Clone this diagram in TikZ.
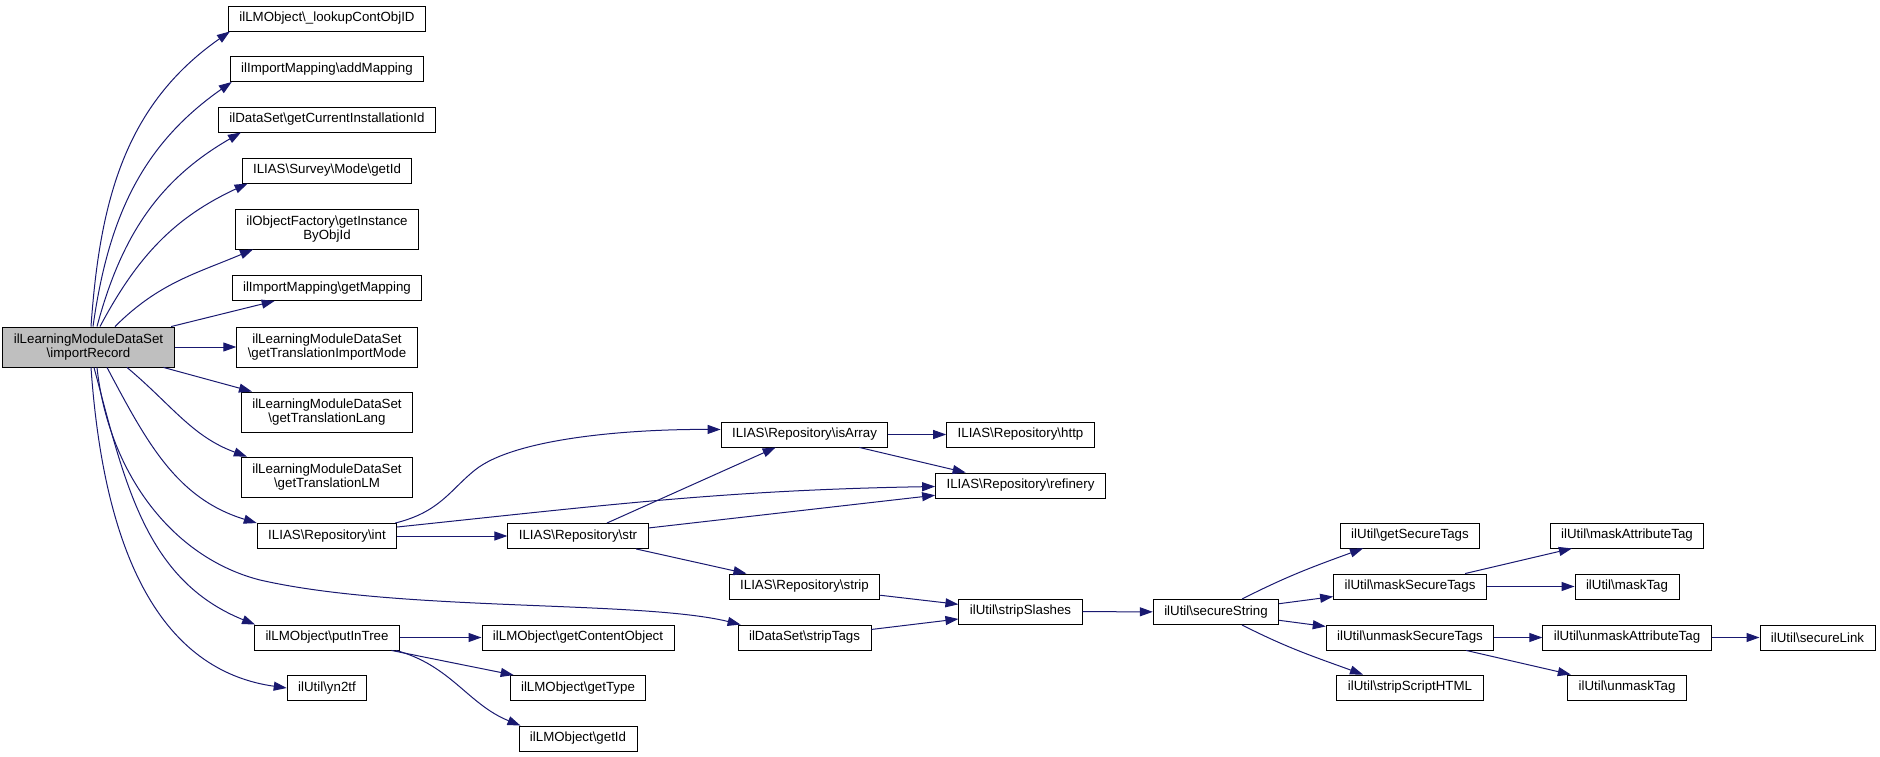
\documentclass[tikz,border=0pt]{standalone}
\usepackage{fontspec}
\setmainfont{Liberation Sans}
\usepackage{tikz}
\usetikzlibrary{arrows.meta}
\definecolor{edgeblue}{HTML}{191970}
\definecolor{curfill}{HTML}{BFBFBF}
\newcommand{\bksl}{\textbackslash}
\newcommand{\fnfont}{\fontsize{13.3}{14}\selectfont}
\tikzset{
  fn/.style={draw=black, line width=0.9pt, fill=white, minimum height=25pt, inner xsep=11pt, inner ysep=0pt, align=center, font=\fnfont},
  fntwo/.style={fn, minimum height=40pt},
  cur/.style={fntwo, fill=curfill},
  call/.style={draw=edgeblue, line width=1pt, -{Triangle[length=13pt,width=9pt]}},
}

\begin{document}
\begin{tikzpicture}[x=1pt,y=-1pt]
  \useasboundingbox (0,0) rectangle (1880,757);
  \def\ca{88.5} \def\cb{327} \def\cc{578} \def\cd{804.5} \def\ce{1020.5}
  \def\cf{1216} \def\cg{1410} \def\ch{1627} \def\ci{1817.5}
  % caller
  \node[cur] (main) at (\ca,347) {ilLearningModuleDataSet\\\bksl{}importRecord};
  % first level
  \node[fn] (lookup) at (\cb,18.5) {ilLMObject\bksl\_lookupContObjID};
  \node[fn] (addmap) at (\cb,69) {ilImportMapping\bksl{}addMapping};
  \node[fn] (instid) at (\cb,119.5) {ilDataSet\bksl{}getCurrentInstallationId};
  \node[fn] (modeid) at (\cb,170.5) {ILIAS\bksl{}Survey\bksl{}Mode\bksl{}getId};
  \node[fntwo] (objinst) at (\cb,229) {ilObjectFactory\bksl{}getInstance\\ByObjId};
  \node[fn] (getmap) at (\cb,288) {ilImportMapping\bksl{}getMapping};
  \node[fntwo] (trmode) at (\cb,347) {ilLearningModuleDataSet\\\bksl{}getTranslationImportMode};
  \node[fntwo] (trlang) at (\cb,412) {ilLearningModuleDataSet\\\bksl{}getTranslationLang};
  \node[fntwo] (trlm) at (\cb,477) {ilLearningModuleDataSet\\\bksl{}getTranslationLM};
  \node[fn] (repoint) at (\cb,536) {ILIAS\bksl{}Repository\bksl{}int};
  \node[fn] (putintree) at (\cb,637.5) {ilLMObject\bksl{}putInTree};
  \node[fn] (yntf) at (\cb,688) {ilUtil\bksl{}yn2tf};
  % second level
  \node[fn] (repostr) at (\cc,536) {ILIAS\bksl{}Repository\bksl{}str};
  \node[fn] (contobj) at (\cc,637.5) {ilLMObject\bksl{}getContentObject};
  \node[fn] (lmtype) at (\cc,688) {ilLMObject\bksl{}getType};
  \node[fn] (lmid) at (\cc,738.5) {ilLMObject\bksl{}getId};
  \node[fn] (isarray) at (\cd,434.5) {ILIAS\bksl{}Repository\bksl{}isArray};
  \node[fn] (repostrip) at (\cd,586.5) {ILIAS\bksl{}Repository\bksl{}strip};
  \node[fn] (striptags) at (\cd,637.5) {ilDataSet\bksl{}stripTags};
  \node[fn] (http) at (\ce,434.5) {ILIAS\bksl{}Repository\bksl{}http};
  \node[fn] (refinery) at (\ce,485.5) {ILIAS\bksl{}Repository\bksl{}refinery};
  \node[fn] (stripslashes) at (\ce,611.5) {ilUtil\bksl{}stripSlashes};
  % ilUtil chain
  \node[fn] (securestr) at (\cf,612) {ilUtil\bksl{}secureString};
  \node[fn] (getsectags) at (\cg,535.5) {ilUtil\bksl{}getSecureTags};
  \node[fn] (masksectags) at (\cg,586.5) {ilUtil\bksl{}maskSecureTags};
  \node[fn] (unmasksectags) at (\cg,637.5) {ilUtil\bksl{}unmaskSecureTags};
  \node[fn] (stripscript) at (\cg,687.5) {ilUtil\bksl{}stripScriptHTML};
  \node[fn] (maskattr) at (\ch,535.5) {ilUtil\bksl{}maskAttributeTag};
  \node[fn] (masktag) at (\ch,586.5) {ilUtil\bksl{}maskTag};
  \node[fn] (unmaskattr) at (\ch,637.5) {ilUtil\bksl{}unmaskAttributeTag};
  \node[fn] (unmasktag) at (\ch,687.5) {ilUtil\bksl{}unmaskTag};
  \node[fn] (securelink) at (\ci,637.5) {ilUtil\bksl{}secureLink};

  % calls from importRecord, upwards
  \draw[call] ([xshift=2.5pt]main.north) to[out=86,in=215] ([xshift=2pt]lookup.south west);
  \draw[call] ([xshift=4.5pt]main.north) to[out=82,in=215] ([xshift=2pt]addmap.south west);
  \draw[call] ([xshift=8.5pt]main.north) to[out=75,in=210] ([xshift=23pt]instid.south west);
  \draw[call] ([xshift=11.5pt]main.north) to[out=62,in=205] ([xshift=6pt]modeid.south west);
  \draw[call] ([xshift=26.5pt]main.north) to[out=45,in=203] ([xshift=18pt]objinst.south west);
  \draw[call] (main) -- (getmap);
  \draw[call] (main) -- (trmode);
  % calls from importRecord, downwards
  \draw[call] (main) -- (trlang);
  \draw[call] ([xshift=38.5pt]main.south) to[out=-40,in=160] ([xshift=6pt]trlm.north west);
  \draw[call] ([xshift=18.5pt]main.south) to[out=-62,in=163] (repoint.north west);
  \draw[call] ([xshift=8.5pt]main.south) .. controls (108,470) and (170,557) .. (260,580)
    .. controls (400,612) and (640,600) .. ([xshift=3pt]striptags.north west);
  \draw[call] ([xshift=5.5pt]main.south) to[out=-75,in=158] ([xshift=1pt]putintree.north west);
  \draw[call] ([xshift=2.5pt]main.south) to[out=-86,in=172] (yntf.west);

  % ILIAS\Repository
  \draw[call] ([xshift=-2pt]repoint.north east) .. controls (440,512) and (450,490) .. (475,470)
    .. controls (515,438) and (630,429) .. ([yshift=5pt]isarray.west);
  \draw[call] ([yshift=9pt]repoint.east) to[out=6,in=181] ([yshift=-1pt]refinery.west);
  \draw[call] (repoint) -- (repostr);
  \draw[call] (repostr) -- (isarray);
  \draw[call] (repostr) -- (refinery);
  \draw[call] (repostr) -- (repostrip);
  \draw[call] (isarray) -- (http);
  \draw[call] (isarray) -- (refinery);
  \draw[call] (repostrip) -- (stripslashes);
  \draw[call] (striptags) -- (stripslashes);

  % ilLMObject
  \draw[call] (putintree) -- (contobj);
  \draw[call] (putintree) -- (lmtype);
  \draw[call] ([xshift=-4pt]putintree.south east) to[out=-15,in=158] ([xshift=2pt]lmid.north west);

  % ilUtil
  \draw[call] (stripslashes) -- (securestr);
  \draw[call] ([xshift=26pt]securestr.north) to[out=27,in=200] ([xshift=-47pt]getsectags.south);
  \draw[call] (securestr) -- (masksectags);
  \draw[call] (securestr) -- (unmasksectags);
  \draw[call] ([xshift=26pt]securestr.south) to[out=-27,in=160] ([xshift=-47pt]stripscript.north);
  \draw[call] (masksectags) -- (maskattr);
  \draw[call] (masksectags) -- (masktag);
  \draw[call] (unmasksectags) -- (unmaskattr);
  \draw[call] (unmasksectags) -- (unmasktag);
  \draw[call] (unmaskattr) -- (securelink);
\end{tikzpicture}
\end{document}
